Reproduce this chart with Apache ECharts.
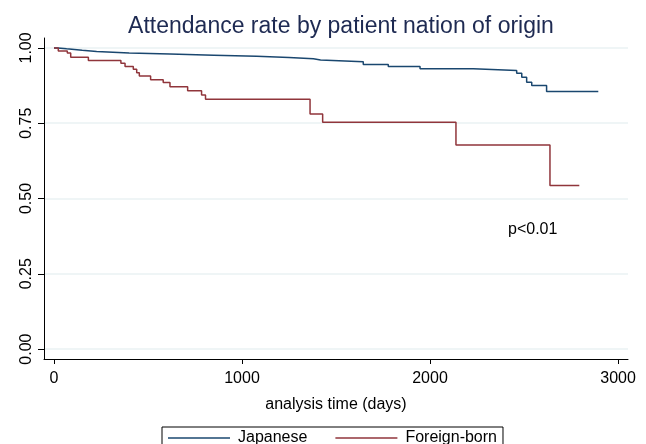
<!DOCTYPE html>
<html>
<head>
<meta charset="utf-8">
<script src="https://cdn.jsdelivr.net/npm/echarts@6/dist/echarts.min.js"></script>
<style>html,body{margin:0;padding:0;background:#fff}#c{width:646px;height:444px}</style>
</head>
<body>
<div id="c"></div>
<script>
// Kaplan-Meier estimates (day, survival)
const japaneseDays = [0, 20, 67, 150, 227, 400, 617, 850, 1078, 1250, 1380, 1418, 1645, 1778, 1947, 2230, 2461, 2488, 2514, 2541, 2620, 2895];
const japaneseSurv = [1.0, 0.997, 0.992, 0.988, 0.983, 0.980, 0.976, 0.972, 0.968, 0.964, 0.960, 0.954, 0.945, 0.938, 0.931, 0.925, 0.916, 0.903, 0.886, 0.875, 0.855, 0.855];
const foreignDays = [0, 23, 71, 89, 183, 356, 378, 422, 440, 454, 514, 581, 617, 711, 785, 806, 1362, 1429, 2138, 2638, 2794];
const foreignSurv = [1.0, 0.990, 0.983, 0.969, 0.958, 0.949, 0.938, 0.929, 0.918, 0.907, 0.894, 0.885, 0.871, 0.858, 0.844, 0.830, 0.781, 0.753, 0.678, 0.543, 0.543];
const xTicks = [0, 1000, 2000, 3000];
const yTicks = [0, 0.25, 0.5, 0.75, 1.0];
const seriesNames = ['Japanese', 'Foreign-born'];
const titleText = 'Attendance rate by patient nation of origin';
const xName = 'analysis time (days)';
const pText = 'p<0.01';

const zip = (a, b) => a.map((v, i) => [v, b[i]]);
const FONT = 'Liberation Sans, Arial, sans-serif';
const chart = echarts.init(document.getElementById('c'), null, {renderer: 'canvas'});
chart.setOption({
  animation: false,
  backgroundColor: '#fff',
  title: {
    text: titleText, left: 336, textAlign: 'center', top: 10,
    textStyle: {fontFamily: FONT, fontSize: 23, fontWeight: 'normal', color: '#1e2a52'}
  },
  grid: {left: 44, right: 18, top: 38, bottom: 85},
  xAxis: {
    type: 'value', min: -53, max: 3053,
    name: xName, nameLocation: 'middle', nameGap: 38,
    nameTextStyle: {fontFamily: FONT, fontSize: 16, color: '#000'},
    axisLine: {show: true, onZero: false, lineStyle: {color: '#000', width: 1}},
    axisTick: {show: true, length: 5, customValues: xTicks, lineStyle: {color: '#000'}},
    axisLabel: {customValues: xTicks, margin: 12, fontFamily: FONT, fontSize: 16, color: '#000',
      formatter: v => String(v)},
    splitLine: {show: false}
  },
  yAxis: {
    type: 'value', min: -0.033, max: 1.033,
    axisLine: {show: true, onZero: false, lineStyle: {color: '#000', width: 1}},
    axisTick: {show: true, length: 6, customValues: yTicks, lineStyle: {color: '#000'}},
    axisLabel: {customValues: yTicks, rotate: 90, margin: 9, fontFamily: FONT, fontSize: 16, color: '#000',
      formatter: v => v.toFixed(2)},
    splitLine: {show: true, lineStyle: {color: '#eaf2f3', width: 1.5}}
  },
  legend: {
    data: seriesNames, left: 162, top: 427,
    orient: 'horizontal', itemWidth: 62, itemHeight: 1.5, itemGap: 28,
    icon: 'rect', padding: [3, 6, 10, 6],
    borderColor: '#000', borderWidth: 1, borderRadius: 0,
    textStyle: {fontFamily: FONT, fontSize: 16, color: '#000', padding: [0, 0, 0, 3]}
  },
  graphic: [{
    type: 'text', left: 508, top: 222,
    style: {text: pText, fontFamily: FONT, fontSize: 16, fill: '#000'}
  }],
  series: [
    {name: seriesNames[0], type: 'line', step: 'end', showSymbol: false, symbol: 'none',
     data: zip(japaneseDays, japaneseSurv), lineStyle: {color: '#1a476f', width: 1.5}, itemStyle: {color: '#1a476f'}},
    {name: seriesNames[1], type: 'line', step: 'end', showSymbol: false, symbol: 'none',
     data: zip(foreignDays, foreignSurv), lineStyle: {color: '#90353b', width: 1.5}, itemStyle: {color: '#90353b'}}
  ]
});
</script>
</body>
</html>
